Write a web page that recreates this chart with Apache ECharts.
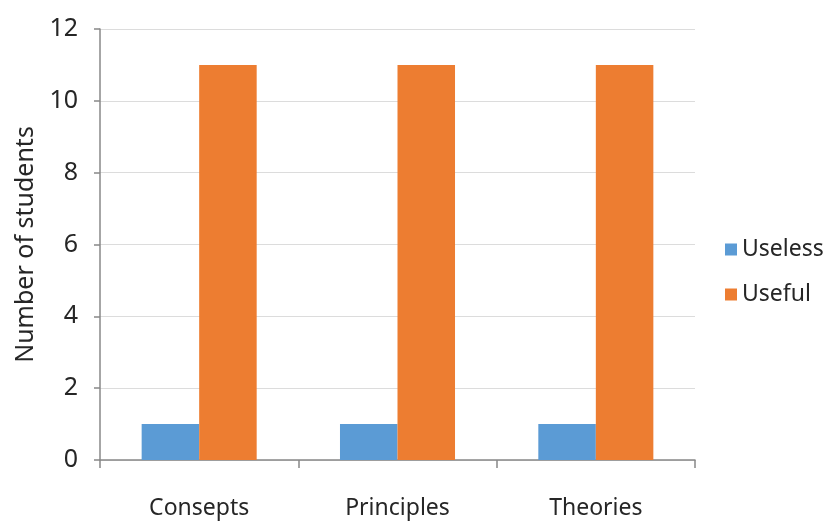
<!DOCTYPE html>
<html>
<head>
<meta charset="utf-8">
<script src="https://cdn.jsdelivr.net/npm/echarts@6/dist/echarts.min.js"></script>
<style>html,body{margin:0;padding:0;background:#fff;}#c{width:826px;height:521px;}</style>
</head>
<body>
<div id="c"></div>
<script>
const categories = ["Consepts", "Principles", "Theories"];
const useless = [1, 1, 1];
const useful = [11, 11, 11];
const yTicks = { min: 0, max: 12, interval: 2 };

const chart = echarts.init(document.getElementById('c'), null, { renderer: 'canvas' });
const font = "Noto Sans";
chart.setOption({
  animation: false,
  backgroundColor: '#fff',
  grid: { left: 100, right: 131, top: 29, bottom: 61, containLabel: false },
  legend: {
    orient: 'vertical', left: 720, top: 233,
    itemWidth: 12, itemHeight: 12, itemGap: 22,
    icon: 'rect',
    textStyle: { fontFamily: font, fontSize: 23, color: '#262626' },
    data: ['Useless', 'Useful']
  },
  xAxis: {
    type: 'category', data: categories,
    axisLine: { lineStyle: { color: '#888', width: 1.5 } },
    axisTick: { show: true, length: 8, lineStyle: { color: '#888', width: 1.5 } },
    axisLabel: { fontFamily: font, fontSize: 23, color: '#262626', margin: 37 }
  },
  yAxis: {
    type: 'value', min: yTicks.min, max: yTicks.max, interval: yTicks.interval,
    name: 'Number of students', nameLocation: 'middle', nameGap: 62,
    nameTextStyle: { fontFamily: font, fontSize: 25, color: '#262626' },
    axisLine: { show: true, lineStyle: { color: '#888', width: 1.5 } },
    axisTick: { show: true, length: 6, lineStyle: { color: '#888', width: 1.5 } },
    axisLabel: { fontFamily: font, fontSize: 25, color: '#262626', margin: 22 },
    splitLine: { lineStyle: { color: '#dcdcdc', width: 1.2 } }
  },
  series: [
    { name: 'Useless', type: 'bar', data: useless, barGap: '0%', barCategoryGap: '42%',
      itemStyle: { color: '#5B9BD5' } },
    { name: 'Useful', type: 'bar', data: useful, barGap: '0%', barCategoryGap: '42%',
      itemStyle: { color: '#ED7D31' } }
  ]
});
</script>
</body>
</html>
